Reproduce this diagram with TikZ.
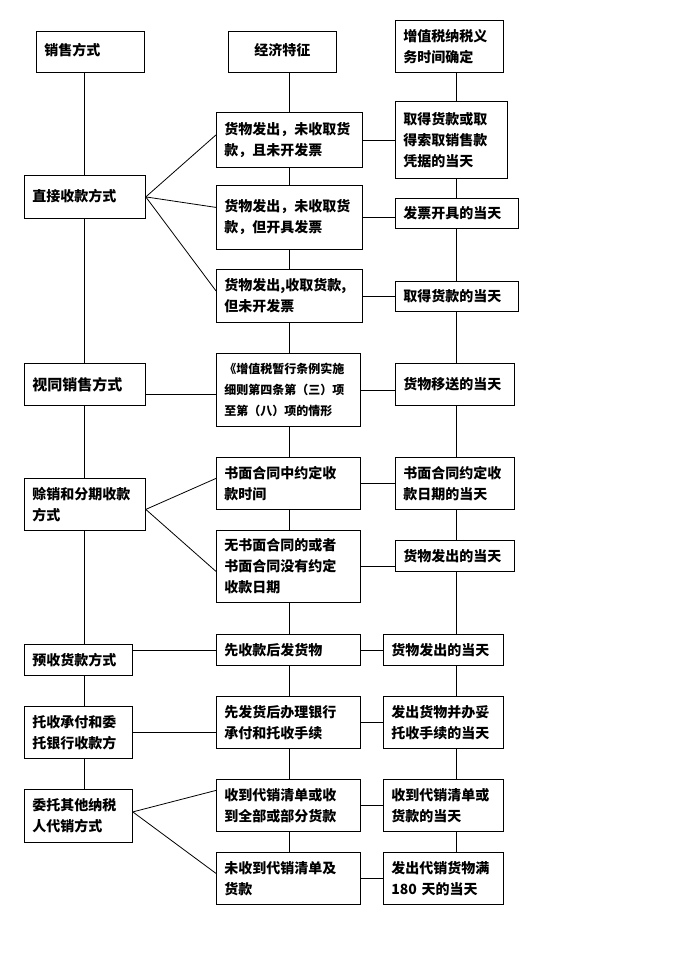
\documentclass[tikz,border=0pt]{standalone}
\usepackage{fontspec}
\setmainfont{Noto Sans CJK SC}

\begin{document}
\begin{tikzpicture}[x=1pt, y=-1pt, line width=0.8pt,
    box/.style={rectangle, draw, anchor=north west, align=left,
        inner xsep=8pt, inner ysep=2pt, font=\fontsize{14}{21}\selectfont\bfseries},
    cell/.style 2 args={minimum width=#1, text width=#1-16pt, minimum height=#2}]
    \useasboundingbox (0,0) rectangle (683,978);
    % headings
    \node[box, cell={108pt}{41pt}] (h1) at (36,31) {\raisebox{5pt}{销售方式}};
    \node[box, cell={108pt}{41pt}, align=center] (h2) at (228,31) {\raisebox{5pt}{经济特征}};
    \node[box, cell={108pt}{52pt}] (h3) at (395,20) {增值税纳税义\\务时间确定};
    % sales modes
    \node[box, cell={121pt}{43pt}] (s1) at (24,175) {\raisebox{4pt}{直接收款方式}};
    \node[box, cell={121pt}{42pt}, font=\fontsize{15}{21}\selectfont\bfseries] (s2) at (24,363) {视同销售方式};
    \node[box, cell={121pt}{52pt}] (s3) at (24,478) {赊销和分期收款\\方式};
    \node[box, cell={108pt}{31pt}] (s4) at (24,644) {预收货款方式};
    \node[box, cell={108pt}{52pt}] (s5) at (24,706) {托收承付和委\\托银行收款方};
    \node[box, cell={108pt}{53pt}] (s6) at (24,789) {委托其他纳税\\人代销方式};
    % features
    \node[box, cell={146pt}{55pt}] (m1) at (216,112) {货物发出，未收取货\\款，且未开发票};
    \node[box, cell={146pt}{64pt}] (m2) at (216,185) {货物发出，未收取货\\款，但开具发票};
    \node[box, cell={146pt}{53pt}] (m3) at (216,269) {货物发出,收取货款,\\但未开发票};
    \node[box, cell={144pt}{73pt}, font=\fontsize{12}{21}\selectfont\bfseries] (m4) at (216,353)
        {《增值税暂行条例实施\\细则第四条第（三）项\\至第（八）项的情形};
    \node[box, cell={144pt}{52pt}] (m5) at (216,457) {书面合同中约定收\\款时间};
    \node[box, cell={144pt}{72pt}] (m6) at (216,530) {无书面合同的或者\\书面合同没有约定\\收款日期};
    \node[box, cell={144pt}{31pt}] (m7) at (216,634) {先收款后发货物};
    \node[box, cell={144pt}{52pt}] (m8) at (216,696) {先发货后办理银行\\承付和托收手续};
    \node[box, cell={144pt}{52pt}] (m9) at (216,779) {收到代销清单或收\\到全部或部分货款};
    \node[box, cell={144pt}{52pt}] (m10) at (216,852) {未收到代销清单及\\货款};
    % tax point
    \node[box, cell={112pt}{77pt}] (r1) at (395,101) {取得货款或取\\得索取销售款\\凭据的当天};
    \node[box, cell={123pt}{30pt}] (r2) at (395,198) {发票开具的当天};
    \node[box, cell={123pt}{30pt}] (r3) at (395,281) {取得货款的当天};
    \node[box, cell={119pt}{42pt}] (r4) at (395,363) {货物移送的当天};
    \node[box, cell={119pt}{52pt}] (r5) at (395,457) {书面合同约定收\\款日期的当天};
    \node[box, cell={119pt}{31pt}] (r6) at (395,540) {货物发出的当天};
    \node[box, cell={120pt}{31pt}] (r7) at (383,634) {货物发出的当天};
    \node[box, cell={120pt}{52pt}] (r8) at (383,696) {发出货物并办妥\\托收手续的当天};
    \node[box, cell={120pt}{52pt}] (r9) at (383,779) {收到代销清单或\\货款的当天};
    \node[box, cell={120pt}{52pt}] (r10) at (383,852) {发出代销货物满\\180 天的当天};
    % column lines
    \coordinate (sl) at (84,0);
    \coordinate (sr) at (456,0);
    \foreach \a/\b in {h1/s1, s1/s2, s2/s3, s3/s4, s4/s5, s5/s6}
        \draw (\a.south -| sl) -- (\b.north -| sl);
    \foreach \a/\b in {h2/m1, m1/m2, m2/m3, m3/m4, m4/m5, m5/m6, m6/m7, m7/m8, m8/m9, m9/m10}
        \draw (\a.south -| m1) -- (\b.north -| m1);
    \foreach \a/\b in {h3/r1, r1/r2, r2/r3, r3/r4, r4/r5, r5/r6, r6/r7, r7/r8, r8/r9, r9/r10}
        \draw (\a.south -| sr) -- (\b.north -| sr);
    % modes to features
    \draw (s1.east) -- ([yshift=5pt]m1.west);
    \draw (s1.east) -- ([yshift=10pt]m2.west);
    \draw (s1.east) -- ([yshift=5pt]m3.west);
    \draw ([yshift=-10pt]s2.east) -- ([yshift=-10pt]s2.east -| m4.west);
    \draw ([yshift=-5pt]s3.east) -- ([yshift=5pt]m5.west);
    \draw ([yshift=-5pt]s3.east) -- ([yshift=-5pt]m6.west);
    \draw (m7.west -| s4.east) -- (m7.west);
    \draw (s5.east) -- (s5.east -| m8.west);
    \draw ([yshift=4pt]s6.east) -- ([yshift=15pt]m9.west);
    \draw ([yshift=4pt]s6.east) -- ([yshift=5pt]m10.west);
    % features to tax point
    \foreach \i in {1,...,10}
        \draw (m\i.east) -- (m\i.east -| r\i.west);
\end{tikzpicture}
\end{document}
